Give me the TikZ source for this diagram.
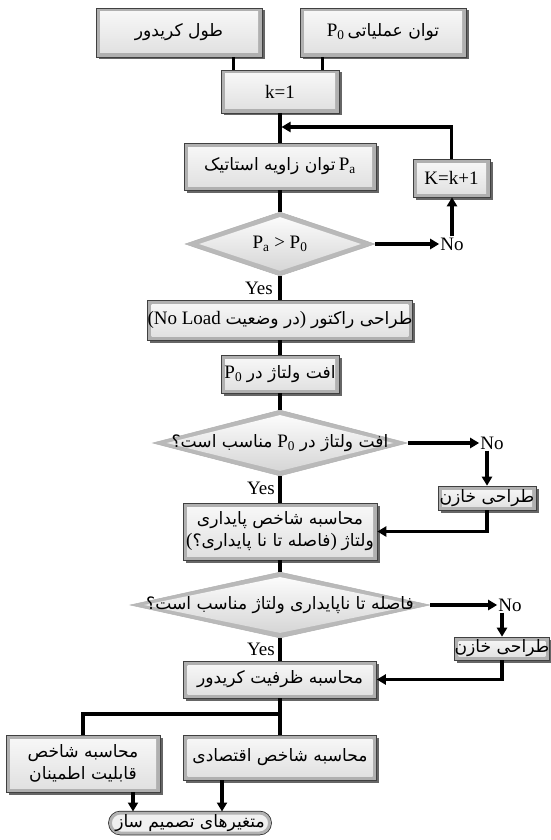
\documentclass[tikz,border=0pt]{standalone}
\usepackage{fontspec}
\setmainfont{Liberation Serif}
\newfontfamily\arfont[Script=Arabic,Scale=0.9]{DejaVu Sans}
\TeXXeTstate=1
\newcommand\farsi[1]{{\arfont\beginR #1\endR}}
\usetikzlibrary{shapes.geometric,shapes.misc,shadows,arrows.meta,calc}
\begin{document}
\begin{tikzpicture}[x=1pt,y=-1pt,
  every node/.style={font=\fontsize{19}{22}\selectfont},
  box/.style={rectangle, draw=gray!50!black, line width=0.6pt, fill=gray!62, inner sep=2pt,
    drop shadow={shadow xshift=2.5pt, shadow yshift=-2.5pt, opacity=0.75, fill=black!80},
    path picture={\shade[top color=gray!5, bottom color=gray!25]
      ([shift={(4pt,-4pt)}]path picture bounding box.north west) rectangle
      ([shift={(-4pt,4pt)}]path picture bounding box.south east);}},
  dia/.style={diamond, draw=gray!60, line width=0.5pt, fill=gray!55, inner sep=0pt,
    path picture={\shade[top color=white, bottom color=gray!35]
      ([yshift=-5pt]path picture bounding box.north) --
      ([xshift=-14pt]path picture bounding box.east) --
      ([yshift=5pt]path picture bounding box.south) --
      ([xshift=14pt]path picture bounding box.west) -- cycle;}},
  capsule/.style={rounded rectangle, preaction={draw=gray!30!black, line width=4.5pt},
    draw=gray!60, line width=3pt, fill=gray!12, inner sep=0pt},
  txt/.style={inner sep=1pt},
  ln/.style={line width=3.2pt},
  arr/.style={line width=3.2pt, -{Triangle[length=9pt,width=10pt]}}
]
\useasboundingbox (0,0) rectangle (550,840);

% nodes
\node[box, minimum width=166pt, minimum height=49pt] (L1) at (179,32.5) {\farsi{طول کریدور}};
\node[box, minimum width=166pt, minimum height=49pt] (P0) at (383,32.5) {P\textsubscript{0}\,\farsi{توان عملیاتی}};
\node[box, minimum width=118pt, minimum height=43pt] (k1) at (280,91.5) {k=1};
\node[box, minimum width=192pt, minimum height=47pt] (Pa) at (280,166.5) {\farsi{توان زاویه استاتیک}\,P\textsubscript{a}};
\node[box, minimum width=77pt, minimum height=38pt, inner sep=0pt] (Kk) at (451.5,178) {K=k+1};
\node[dia, minimum width=190pt, minimum height=64pt,
  label={center:P\textsubscript{a} > P\textsubscript{0}}] (D1) at (280,244) {};
\node[txt] (No1) at (452,244) {No};
\node[txt, anchor=east] (Y1) at (274,288) {Yes};
\node[box, minimum width=254pt, minimum height=40pt, inner sep=0pt] (R) at (280,320) {(No Load \farsi{در وضعیت}) \farsi{طراحی راکتور}};
\node[box, minimum width=118pt, minimum height=38pt] (V) at (280,374) {P\textsubscript{0} \farsi{افت ولتاژ در}};
\node[dia, minimum width=255pt, minimum height=66pt,
  label={center:\farsi{مناسب است؟} P\textsubscript{0} \farsi{افت ولتاژ در}}] (D2) at (280,443) {};
\node[txt] (No2) at (492,443) {No};
\node[box, minimum width=98pt, minimum height=24pt, inner sep=0pt] (C1) at (487,498) {\farsi{طراحی خازن}};
\node[txt, anchor=east] (Y2) at (276,488) {Yes};
\node[box, minimum width=194pt, minimum height=57pt, align=center, inner sep=0pt] (S) at (280,531.5)
  {\farsi{محاسبه شاخص پایداری}\\(\farsi{فاصله تا نا پایداری؟}) \farsi{ولتاژ}};
\node[dia, minimum width=300pt, minimum height=66pt,
  label={center:\farsi{فاصله تا ناپایداری ولتاژ مناسب است؟}}] (D3) at (280,605) {};
\node[txt] (No3) at (510,605) {No};
\node[box, minimum width=94pt, minimum height=23pt, inner sep=0pt] (C2) at (502,648.5) {\farsi{طراحی خازن}};
\node[txt, anchor=east] (Y3) at (276,649) {Yes};
\node[box, minimum width=193pt, minimum height=37pt] (E) at (280,679.5) {\farsi{محاسبه ظرفیت کریدور}};
\node[box, minimum width=154pt, minimum height=57pt, align=center, inner sep=0pt] (LB) at (83,763.5)
  {\farsi{محاسبه شاخص}\\\farsi{قابلیت اطمینان}};
\node[box, minimum width=193pt, minimum height=45pt] (RB) at (280,757.5) {\farsi{محاسبه شاخص اقتصادی}};
\node[capsule, minimum width=150pt, minimum height=20pt] (Cap) at (190,823) {\farsi{متغیرهای تصمیم ساز}};

% connectors
\coordinate (l1d) at ([xshift=-29pt]L1.south east);
\coordinate (p0d) at ([xshift=23pt]P0.south west);
\draw[ln] (l1d) -- (l1d |- k1.north);
\draw[ln] (p0d) -- (p0d |- k1.north);
\draw[ln] (k1) -- (Pa);
\coordinate (j1) at (281.5,127);
\draw[arr] (Kk.north) |- (j1);
\draw[ln] (Pa) -- (D1);
\draw[arr] (D1.east) -- (No1.west);
\draw[arr] (No1.north) -- (No1.north |- Kk.south);
\draw[ln] (D1.south) -- (R.north);
\draw[ln] (R) -- (V);
\draw[ln] (V) -- (D2);
\draw[arr] (D2.east) -- (No2.west);
\draw[arr] (No2.south -| C1.north) -- (C1.north);
\draw[ln] (D2.south) -- (S.north);
\draw[arr] (C1.south) |- (S.east);
\draw[ln] (S) -- (D3);
\draw[arr] (D3.east) -- (No3.west);
\draw[arr] (No3.south -| C2.north) -- (C2.north);
\draw[ln] (D3.south) -- (E.north);
\draw[arr] (C2.south) |- (E.east);
\coordinate (jb) at (280,714);
\draw[ln] (E.south) -- (jb);
\draw[ln] (jb) -| (LB.north);
\draw[ln] (jb) -- (RB.north);
\coordinate (lbd) at ([xshift=50pt]LB.south);
\draw[arr] (lbd) -- (lbd |- Cap.north);
\coordinate (rbd) at ([xshift=-58pt]RB.south);
\draw[arr] (rbd) -- (rbd |- Cap.north);
\end{tikzpicture}
\end{document}
